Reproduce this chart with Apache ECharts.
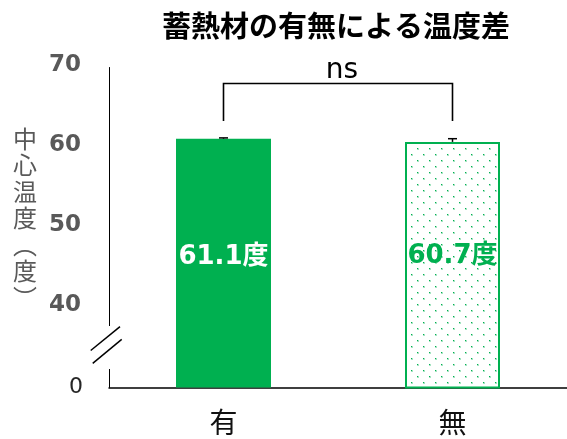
<!DOCTYPE html>
<html><head><meta charset="utf-8">
<script src="https://cdn.jsdelivr.net/npm/echarts@6/dist/echarts.min.js"></script>
<style>html,body{margin:0;padding:0;background:#fff}#c{width:567px;height:439px}</style>
</head><body><div id="c"></div>
<script>
// ---- data ----
const titleText = '蓄熱材の有無による温度差';
const categories = ['有', '無'];
const means = [61.1, 60.7];
const errors = [0.1, 0.4];
const valueLabels = ['61.1度', '60.7度'];
const yTickValues = [30, 40, 50, 60, 70];      // 30 = bottom of broken axis
const yTickLabels = ['0', '40', '50', '60', '70'];
const sigLabel = 'ns';
const sigBracket = [63.3, 68, 69.6];           // leg bottom, bracket top, label
const yName = '中心温度（度）';

// ---- style ----
const GREEN = '#00b050';
const CJK = "'Noto Sans CJK JP', sans-serif";
const NUM = "'DejaVu Sans', 'Noto Sans CJK JP', sans-serif";

const pat = document.createElement('canvas');
pat.width = 12; pat.height = 12;
const pc = pat.getContext('2d');
pc.fillStyle = '#fff'; pc.fillRect(0, 0, 12, 12);
pc.fillStyle = 'rgba(0,176,80,0.35)';
pc.fillRect(3, 10, 2, 2);
pc.fillRect(9, 4, 2, 2);
pc.fillStyle = GREEN;
pc.fillRect(3, 10, 1, 1);
pc.fillRect(9, 4, 1, 1);

const chart = echarts.init(document.getElementById('c'), null, {renderer: 'canvas'});

const barData = means.map((v, i) => {
  if (i === 0) {
    return {value: v, itemStyle: {color: GREEN},
      label: {color: '#fff', offset: [0, -6]}};
  }
  return {value: v, itemStyle: {color: {image: pat, repeat: 'repeat'}, borderColor: GREEN, borderWidth: 2},
    label: {color: GREEN, offset: [0, -9]}};
});

const vertName = yName.replace('（', '︵').replace('）', '︶').split('').join('\n');

chart.setOption({
  animation: false,
  backgroundColor: '#fff',
  title: {
    text: titleText, left: 162, top: 11, padding: 0,
    textStyle: {fontFamily: CJK, fontSize: 29, fontWeight: 'bold', color: '#000'}
  },
  grid: {left: 109, top: 67.5, width: 461, height: 320},
  xAxis: {
    type: 'category', data: categories,
    axisLine: {lineStyle: {color: '#000', width: 1.5}},
    axisTick: {show: false},
    axisLabel: {fontFamily: CJK, fontSize: 28, color: '#111', margin: 21}
  },
  yAxis: {
    type: 'value', min: 30, max: 70, interval: 10,
    splitLine: {show: false},
    axisTick: {show: false},
    axisLine: {show: true, lineStyle: {color: '#000', width: 1}},
    axisLabel: {
      margin: 28,
      customValues: yTickValues,
      formatter: function (v) {
        const i = yTickValues.indexOf(v);
        const t = i >= 0 ? yTickLabels[i] : '';
        return i === 0 ? '{z|' + t + '}' : '{b|' + t + '}';
      },
      rich: {
        z: {fontFamily: NUM, fontSize: 22, color: '#262626', fontWeight: 'normal', padding: [0, -2, 0, 0]},
        b: {fontFamily: NUM, fontSize: 23, color: '#595959', fontWeight: 'bold', padding: [0, 0, 5, 0]}
      }
    }
  },
  series: [
    {
      type: 'bar', data: barData, barWidth: 95,
      label: {
        show: true, position: 'inside',
        formatter: p => valueLabels[p.dataIndex],
        fontFamily: NUM, fontSize: 26, fontWeight: 'bold'
      },
      z: 2
    },
    {
      type: 'custom', clip: false, z: 5,
      data: means.map((v, i) => [i, v, errors[i]]),
      encode: {x: 0, y: 1},
      renderItem: function (params, api) {
        const i = api.value(0), v = api.value(1), e = api.value(2);
        const p1 = api.coord([i, v]);
        const p2 = api.coord([i, v + e]);
        return {type: 'group', children: [
          {type: 'line', shape: {x1: p1[0], y1: p1[1], x2: p2[0], y2: p2[1]}, style: {stroke: '#000', lineWidth: 1.5}},
          {type: 'line', shape: {x1: p2[0] - 4.5, y1: p2[1], x2: p2[0] + 4.5, y2: p2[1]}, style: {stroke: '#000', lineWidth: 1.5}}
        ]};
      }
    },
    {
      type: 'custom', clip: false, z: 5,
      data: [[0, 1, sigBracket[0], sigBracket[1], sigBracket[2]]],
      encode: {x: [0, 1], y: [2, 3, 4]},
      renderItem: function (params, api) {
        const a = api.coord([api.value(0), api.value(2)]);
        const b = api.coord([api.value(0), api.value(3)]);
        const c = api.coord([api.value(1), api.value(3)]);
        const d = api.coord([api.value(1), api.value(2)]);
        const ty = api.coord([api.value(0), api.value(4)])[1];
        const tx = (b[0] + c[0]) / 2;
        return {type: 'group', children: [
          {type: 'polyline', shape: {points: [a, b, c, d]}, style: {stroke: '#000', lineWidth: 1.6, fill: null}},
          {type: 'text', x: tx + 4, y: ty, style: {text: sigLabel, fontFamily: NUM, fontSize: 28, fill: '#000', align: 'center', verticalAlign: 'middle'}}
        ]};
      }
    }
  ],
  graphic: [
    {type: 'rect', z: 100, shape: {x: 104, y: 326, width: 9, height: 43}, style: {fill: '#fff'}},
    {type: 'line', z: 101, shape: {x1: 90.7, y1: 350.5, x2: 120, y2: 326.7}, style: {stroke: '#000', lineWidth: 1.5}},
    {type: 'line', z: 101, shape: {x1: 92.7, y1: 363.3, x2: 121.7, y2: 339.3}, style: {stroke: '#000', lineWidth: 1.5}},
    {type: 'text', z: 101, x: 25, y: 218, style: {text: vertName, fontFamily: CJK, fontSize: 24, lineHeight: 26.5, fill: '#595959', align: 'center', verticalAlign: 'middle'}}
  ]
});
</script>
</body></html>
